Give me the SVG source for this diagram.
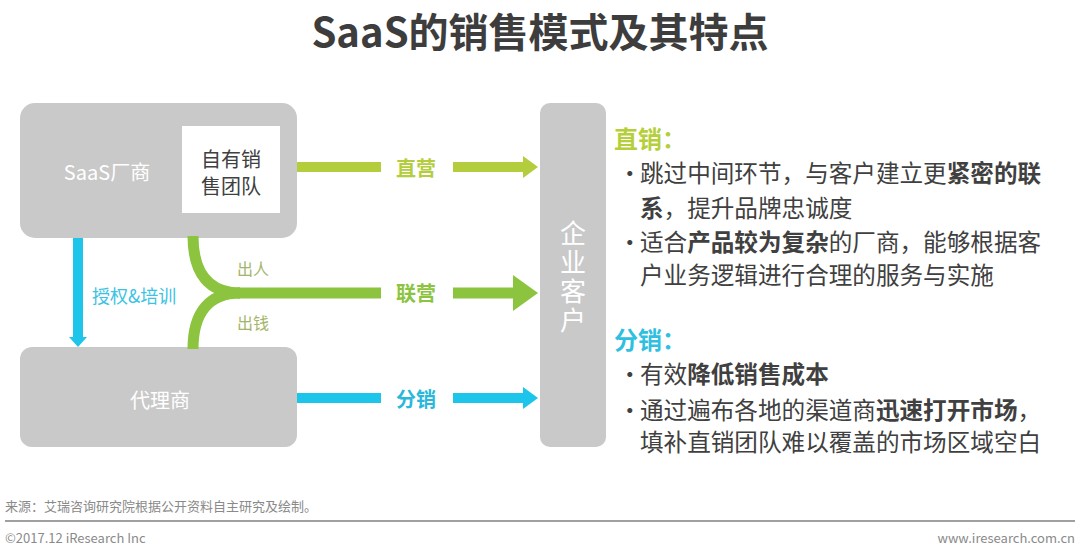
<svg xmlns="http://www.w3.org/2000/svg" width="1080" height="552" viewBox="0 0 1080 552">
<style>
text{font-family:"Noto Sans CJK SC","Liberation Sans",sans-serif;dominant-baseline:central}
.box{fill:#c9c9c9}
.wt{fill:#ffffff;font-size:20px}
.body{fill:#404040;font-size:23.6px}
.b{font-weight:bold}
.lg{fill:none;stroke:#8cc43f;stroke-width:11}
.ft{fill:#8a8a8a;font-size:13px}
</style>
<rect width="1080" height="552" fill="#ffffff"/>
<text x="540" y="30" text-anchor="middle" font-size="40" font-weight="bold" fill="#3d3d3d">SaaS的销售模式及其特点</text>

<g id="saas">
<rect class="box" x="20" y="103" width="277" height="135" rx="15"/>
<text class="wt" x="107" y="171" text-anchor="middle">SaaS厂商</text>
</g>
<g id="team">
<rect x="182" y="126" width="98" height="87" fill="#ffffff"/>
<text x="231" y="158" text-anchor="middle" font-size="20" fill="#404040">自有销</text>
<text x="231" y="185" text-anchor="middle" font-size="20" fill="#404040">售团队</text>
</g>
<g id="agent">
<rect class="box" x="20" y="347" width="277" height="100" rx="12"/>
<text class="wt" x="160" y="399" text-anchor="middle">代理商</text>
</g>
<g id="customer">
<rect class="box" x="540" y="103" width="66" height="344" rx="10"/>
<text x="573" y="220" fill="#ffffff" font-size="26" style="writing-mode:vertical-rl;letter-spacing:3px">企业客户</text>
</g>

<g id="connectors">
<rect x="297" y="162" width="84" height="10" fill="#b4cd3c"/>
<text x="416" y="167" text-anchor="middle" font-size="20" font-weight="bold" fill="#b4cd3c">直营</text>
<rect x="453" y="162" width="71" height="10" fill="#b4cd3c"/>
<polygon points="523,156 538,167 523,178" fill="#b4cd3c"/>

<path class="lg" d="M193,236 C193,275 210,293 240,293"/>
<path class="lg" d="M193,349 C193,311 210,293 240,293"/>
<line class="lg" x1="238" y1="293" x2="381" y2="293"/>
<text x="416" y="292" text-anchor="middle" font-size="20" font-weight="bold" fill="#8cc43f">联营</text>
<rect x="453" y="287.5" width="61" height="11" fill="#8cc43f"/>
<polygon points="513,275 538,293 513,311" fill="#8cc43f"/>
<text x="237" y="268" font-size="16" fill="#a3b56a">出人</text>
<text x="237" y="322" font-size="16" fill="#a3b56a">出钱</text>

<rect x="297" y="393" width="84" height="10" fill="#1ec5ea"/>
<text x="416" y="398" text-anchor="middle" font-size="20" font-weight="bold" fill="#29b8dc">分销</text>
<rect x="453" y="393" width="71" height="10" fill="#1ec5ea"/>
<polygon points="523,387 538,398 523,409" fill="#1ec5ea"/>

<rect x="73" y="238" width="10" height="100" fill="#1ec5ea"/>
<polygon points="69,337 87,337 78,347" fill="#1ec5ea"/>
<text x="92" y="295" font-size="18" fill="#3cc3e3">授权&amp;培训</text>
</g>

<text x="614" y="137" font-size="24" font-weight="bold" fill="#b5cf3b">直销：</text>
<text class="body" x="618" y="172">•</text>
<text class="body" x="640" y="172">跳过中间环节，与客户建立更<tspan class="b">紧密的联</tspan></text>
<text class="body" x="640" y="207"><tspan class="b">系</tspan>，提升品牌忠诚度</text>
<text class="body" x="618" y="241">•</text>
<text class="body" x="640" y="241">适合<tspan class="b">产品较为复杂</tspan>的厂商，能够根据客</text>
<text class="body" x="640" y="274">户业务逻辑进行合理的服务与实施</text>

<text x="614" y="338" font-size="24" font-weight="bold" fill="#2fbfe0">分销：</text>
<text class="body" x="618" y="373">•</text>
<text class="body" x="640" y="373">有效<tspan class="b">降低销售成本</tspan></text>
<text class="body" x="618" y="409">•</text>
<text class="body" x="640" y="409">通过遍布各地的渠道商<tspan class="b">迅速打开市场</tspan>，</text>
<text class="body" x="640" y="441">填补直销团队难以覆盖的市场区域空白</text>

<text class="ft" x="5" y="505" font-size="12">来源：艾瑞咨询研究院根据公开资料自主研究及绘制。</text>
<rect x="5" y="520" width="1070" height="2" fill="#a0a0a0"/>
<text class="ft" x="5" y="537">©2017.12 iResearch Inc</text>
<text class="ft" x="1075" y="537" text-anchor="end">www.iresearch.com.cn</text>
</svg>
